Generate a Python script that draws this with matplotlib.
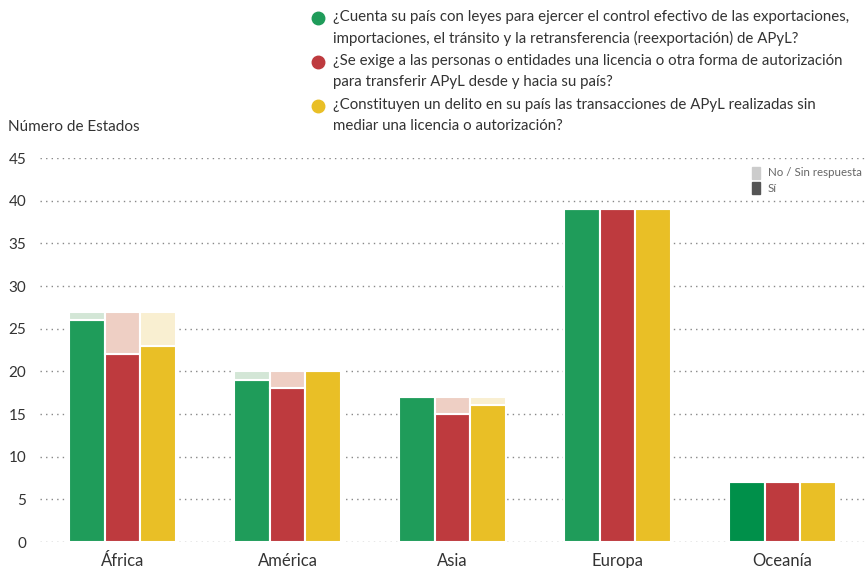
import numpy as np
import matplotlib
matplotlib.use("Agg")
import matplotlib.pyplot as plt
from matplotlib.lines import Line2D

plt.rcParams['font.family'] = ['Lato', 'DejaVu Sans']

regiones = ["África", "América", "Asia", "Europa", "Oceanía"]
preguntas = [
    "¿Cuenta su país con leyes para ejercer el control efectivo de las exportaciones,\nimportaciones, el tránsito y la retransferencia (reexportación) de APyL?",
    "¿Se exige a las personas o entidades una licencia o otra forma de autorización\npara transferir APyL desde y hacia su país?",
    "¿Constituyen un delito en su país las transacciones de APyL realizadas sin\nmediar una licencia o autorización?",
]
si_leyes = [26, 19, 17, 39, 7]
si_licencia = [22, 18, 15, 39, 7]
si_delito = [23, 20, 16, 39, 7]
no_leyes = [1, 1, 0, 0, 0]
no_licencia = [5, 2, 2, 0, 0]
no_delito = [4, 0, 1, 0, 0]

colores = ["#1f9c5a", "#be3a3e", "#e9bf26"]
colores_claros = ["#d3e6d6", "#eecfc4", "#f9efd1"]

fig = plt.figure(figsize=(8.65, 5.68), dpi=100)
ax = fig.add_axes([40 / 865, 1 - 542 / 568, 825 / 865, 384 / 568])

x = np.arange(len(regiones))
ancho = 0.218
series_si = [si_leyes, si_licencia, si_delito]
series_no = [no_leyes, no_licencia, no_delito]
for i in range(3):
    pos = x + (i - 1) * ancho
    barras = ax.bar(pos, series_si[i], ancho, color=colores[i], edgecolor="white", linewidth=1.5, zorder=3)
    ax.bar(pos, series_no[i], ancho, bottom=series_si[i], color=colores_claros[i],
           edgecolor="white", linewidth=1.5, zorder=3)
    if i == 0:
        barras[-1].set_facecolor("#00904a")  # Oceanía un poco más oscuro

ax.set_xlim(-0.5, 4.5)
ax.set_ylim(0, 45)
ax.set_yticks(range(0, 46, 5))
ax.set_xticks(x)
ax.set_xticklabels(regiones, fontsize=12)
ax.tick_params(length=0, labelsize=11, colors="#333333", pad=10)
ax.tick_params(axis="x", pad=8, labelsize=12)
ax.grid(axis="y", color="#888888", linestyle=(0, (1, 3)), linewidth=1, zorder=0)
for s in ax.spines.values():
    s.set_visible(False)

fig.text(8 / 865, 1 - 127 / 568, "Número de Estados", fontsize=11, color="#333333", va="center")

# leyenda de preguntas
for i, texto in enumerate(preguntas):
    y0 = 1 - (18 + 44 * i) / 568
    fig.add_artist(Line2D([318 / 865], [y0], marker="o", markersize=9, color=colores[i],
                          transform=fig.transFigure))
    fig.text(333 / 865, y0 + 8 / 568, texto, fontsize=10.8, color="#333333", va="top",
             linespacing=1.6)

# leyenda pequeña
fig.patches.append(plt.Rectangle((752 / 865, 1 - 179 / 568), 8 / 865, 12 / 568,
                                 color="#cccccc", transform=fig.transFigure))
fig.patches.append(plt.Rectangle((752 / 865, 1 - 194 / 568), 8 / 865, 12 / 568,
                                 color="#555555", transform=fig.transFigure))
fig.text(768 / 865, 1 - 173 / 568, "No / Sin respuesta", fontsize=8.3, color="#666666", va="center")
fig.text(768 / 865, 1 - 188 / 568, "Sí", fontsize=8.3, color="#666666", va="center")

fig.savefig("out.png", dpi=100)
